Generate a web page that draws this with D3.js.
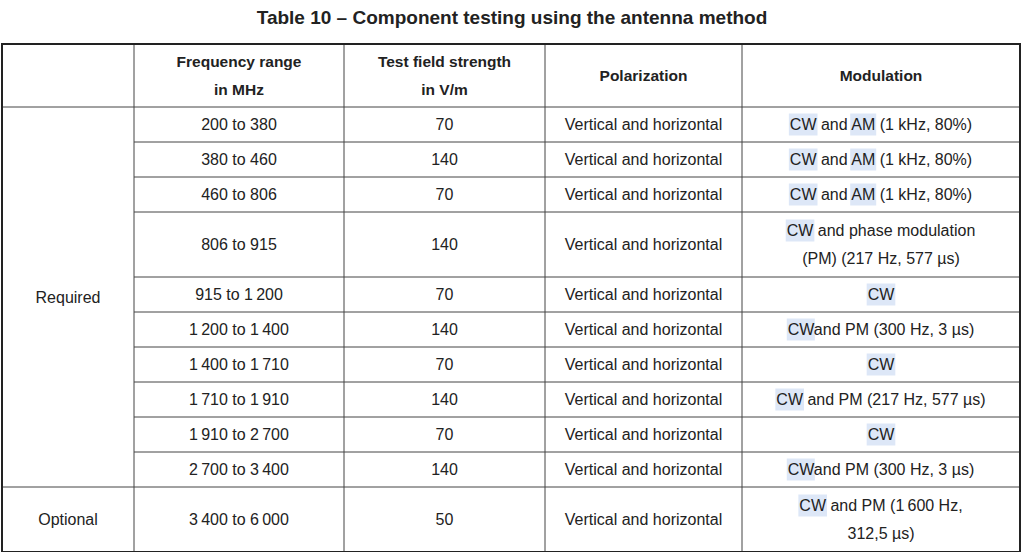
<!DOCTYPE html>
<html>
<head>
<meta charset="utf-8">
<script src="https://cdn.jsdelivr.net/npm/d3@7"></script>
<style>
  body { margin: 0; background: #fff; }
  text { font-family: "Liberation Sans", Arial, sans-serif; fill: #222; }
</style>
</head>
<body>
<svg id="chart"></svg>
<script>
const width = 1024;
const height = 552;

// Table content
const title = "Table 10 \u2013 Component testing using the antenna method";
const headers = [[""], ["Frequency range", "in MHz"], ["Test field strength", "in V/m"], ["Polarization"], ["Modulation"]];
const frequencies = ["200 to 380", "380 to 460", "460 to 806", "806 to 915", "915 to 1\u202f200", "1\u202f200 to 1\u202f400",
  "1\u202f400 to 1\u202f710", "1\u202f710 to 1\u202f910", "1\u202f910 to 2\u202f700", "2\u202f700 to 3\u202f400", "3\u202f400 to 6\u202f000"];
const fieldStrengths = [70, 140, 70, 140, 70, 140, 70, 140, 70, 140, 50];
const polarizations = frequencies.map(() => "Vertical and horizontal");
// [..] marks highlighted words
const modulations = [
  ["[CW] and [AM] (1 kHz, 80%)"],
  ["[CW] and [AM] (1 kHz, 80%)"],
  ["[CW] and [AM] (1 kHz, 80%)"],
  ["[CW] and phase modulation", "(PM) (217 Hz, 577 \u00b5s)"],
  ["[CW]"],
  ["[CW]and PM (300 Hz, 3 \u00b5s)"],
  ["[CW]"],
  ["[CW] and PM (217 Hz, 577 \u00b5s)"],
  ["[CW]"],
  ["[CW]and PM (300 Hz, 3 \u00b5s)"],
  ["[CW] and PM (1\u202f600 Hz,", "312,5 \u00b5s)"]
];
const groups = [["Required", 0, 9], ["Optional", 10, 10]];

// Layout
const colEdges = [2, 134, 344, 545, 742, 1020];
const tableTop = 44, headerH = 63, rowH = 35, rowH2 = 65;
const rowHeights = modulations.map(m => m.length > 1 ? rowH2 : rowH);
const rowTops = [];
rowHeights.reduce((y, h) => { rowTops.push(y); return y + h; }, tableTop + headerH);
const tableBottom = rowTops[rowTops.length - 1] + rowHeights[rowHeights.length - 1];
const lineGap = 28;

const svg = d3.select("#chart").attr("width", width).attr("height", height);

svg.append("text").attr("x", width / 2).attr("y", 24).attr("text-anchor", "middle")
  .attr("font-weight", "bold").attr("font-size", 19).text(title);

const colMid = i => (colEdges[i] + colEdges[i + 1]) / 2;

function multiline(lines, x, yMid, opts = {}) {
  const g = svg.append("g");
  const y0 = yMid - (lines.length - 1) * lineGap / 2;
  lines.forEach((line, k) => {
    const t = g.append("text").attr("x", x).attr("y", y0 + k * lineGap).attr("dy", "0.35em")
      .attr("text-anchor", "middle").attr("font-size", opts.size || 16)
      .attr("font-weight", opts.bold ? "bold" : null);
    const parts = line.split(/(\[[^\]]+\])/).filter(s => s.length);
    parts.forEach(p => {
      const hl = p.startsWith("[");
      t.append("tspan").attr("class", hl ? "hl" : null).text(hl ? p.slice(1, -1) : p);
    });
    t.selectAll("tspan.hl").each(function () {
      const len = this.getComputedTextLength();
      const start = this.getStartPositionOfChar(0);
      g.insert("rect", "text").attr("x", start.x - 1).attr("y", y0 + k * lineGap - 11)
        .attr("width", len + 2).attr("height", 22).attr("fill", "#dde7f7");
    });
  });
}

// Header
headers.forEach((h, i) => multiline(h, colMid(i), tableTop + headerH / 2, { bold: true, size: 15.5 }));

// Rows
frequencies.forEach((f, r) => {
  const yMid = rowTops[r] + rowHeights[r] / 2;
  multiline([f], colMid(1), yMid);
  multiline([String(fieldStrengths[r])], colMid(2), yMid);
  multiline([polarizations[r]], colMid(3), yMid);
  multiline(modulations[r], colMid(4), yMid);
});

// Group labels
groups.forEach(([label, a, b]) => {
  const y1 = rowTops[a], y2 = rowTops[b] + rowHeights[b];
  multiline([label], colMid(0), (y1 + y2) / 2);
});

// Grid lines
const grid = svg.append("g").attr("stroke", "#444").attr("stroke-width", 1);
colEdges.slice(1, -1).forEach(x => grid.append("line").attr("x1", x).attr("x2", x).attr("y1", tableTop).attr("y2", tableBottom));
grid.append("line").attr("x1", colEdges[0]).attr("x2", colEdges[5]).attr("y1", tableTop + headerH).attr("y2", tableTop + headerH);
rowTops.slice(1).forEach((y, i) => {
  const isGroupEdge = groups.some(g => g[1] === i + 1);
  grid.append("line").attr("x1", isGroupEdge ? colEdges[0] : colEdges[1]).attr("x2", colEdges[5])
    .attr("y1", y).attr("y2", y);
});
svg.append("rect").attr("x", colEdges[0]).attr("y", tableTop).attr("width", colEdges[5] - colEdges[0])
  .attr("height", tableBottom - tableTop).attr("fill", "none").attr("stroke", "#222").attr("stroke-width", 2);
</script>
</body>
</html>
